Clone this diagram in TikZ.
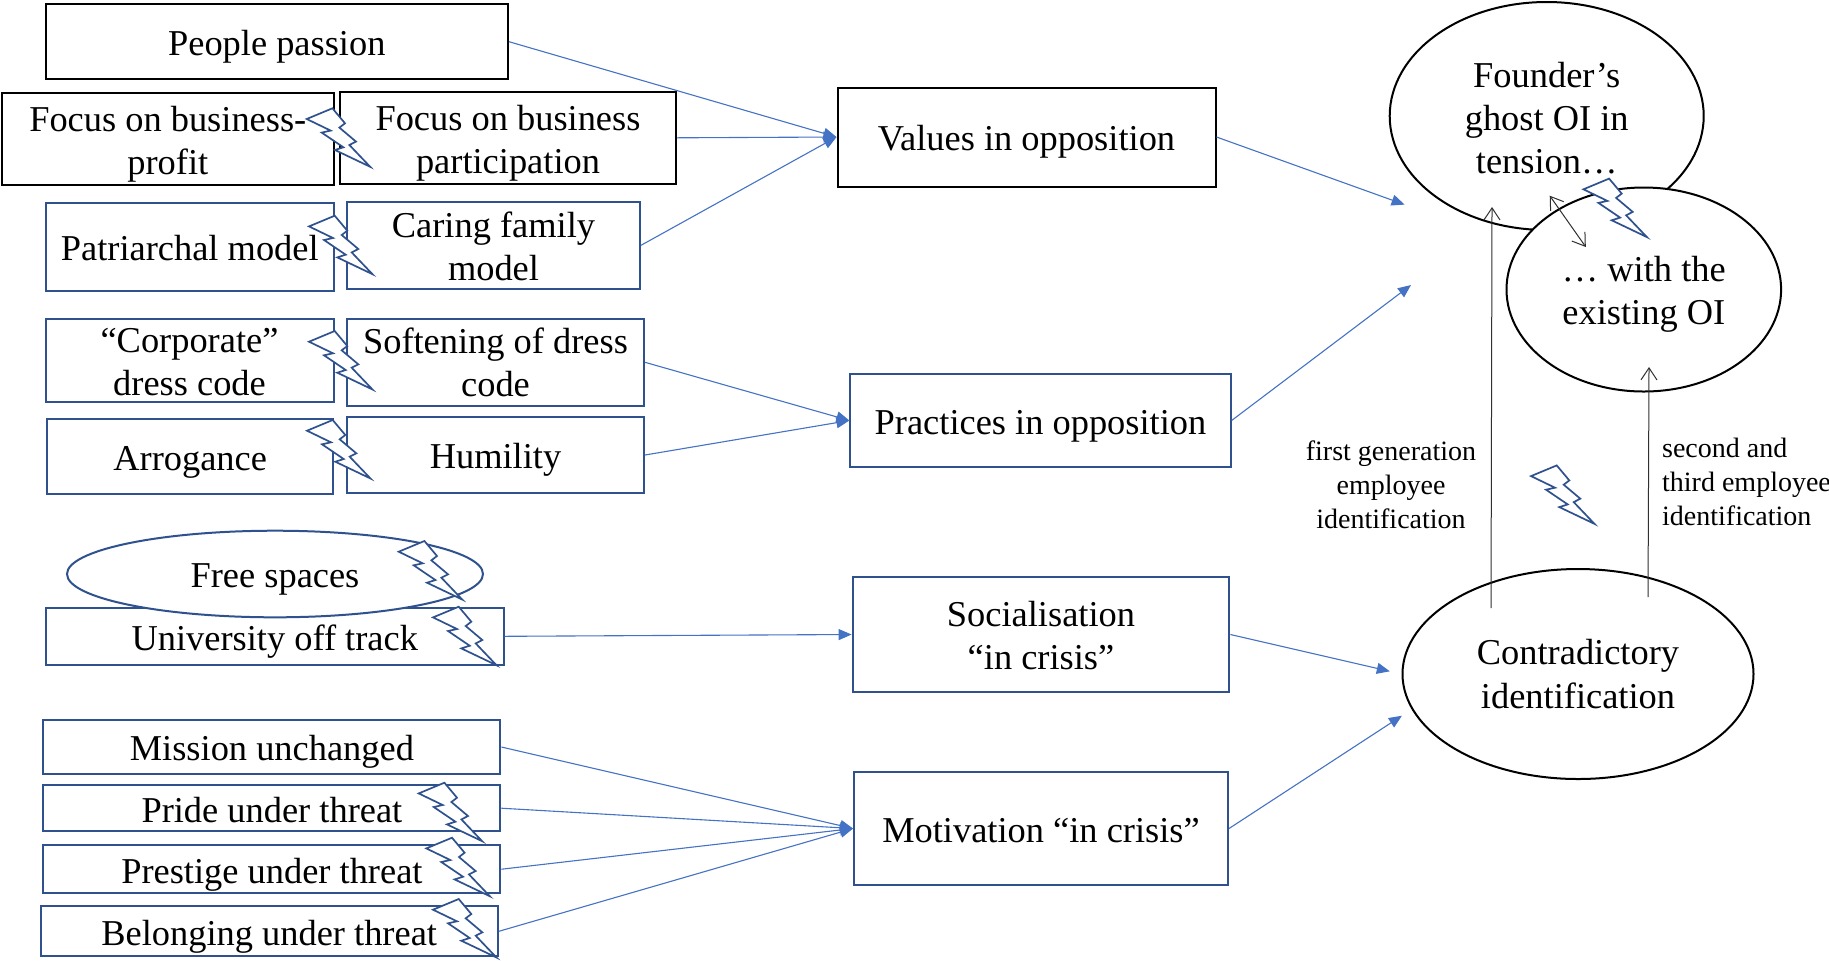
\documentclass[tikz,border=0pt]{standalone}
\usepackage{fontspec}
\setmainfont{Liberation Serif}
\usetikzlibrary{shapes.geometric,arrows.meta}
\definecolor{boxblue}{HTML}{2F528F}
\definecolor{linkblue}{HTML}{4472C4}
\definecolor{thinarrow}{HTML}{303030}
\newcommand{\toppad}[1]{\rule{0pt}{#1pt}}
\tikzset{
  labeltext/.style={font=\fontsize{18.2}{21.6}\selectfont,align=center,inner sep=0pt,text=black},
  oneline/.style={execute at begin node={\rule[-4pt]{0pt}{21.8pt}}},
  blackbox/.style={labeltext,rectangle,draw=black,line width=1pt},
  bluebox/.style={labeltext,rectangle,draw=boxblue,line width=1pt},
  blackoval/.style={labeltext,ellipse,draw=black,line width=1pt,fill=white},
  blueoval/.style={labeltext,ellipse,draw=boxblue,line width=1pt,fill=white},
  smalltext/.style={font=\fontsize{14}{17}\selectfont,inner sep=0pt,text=black},
  link/.style={draw=linkblue,line width=.55pt,-{Triangle[length=6.5pt,width=5.5pt]}},
  idarrow/.style={draw=thinarrow,line width=.5pt,-{Straight Barb[length=6pt,width=8pt,line width=.5pt]}},
  boltshape/.pic={
    \draw[draw=boxblue,line width=.85pt,fill=white,line join=miter]
      (0,10.7) -- (25.7,0) -- (38.3,15) -- (32.7,19.3) -- (49.3,33.3) -- (42.7,36.7)
      -- (63.5,58.5) -- (28.3,41.7) -- (36.7,39) -- (15,24.3) -- (24,22.3) -- cycle;
  }
}
\begin{document}
\begin{tikzpicture}[x=0.5pt,y=-0.5pt]
\useasboundingbox (0,0) rectangle (1829,960);
% left column
\node[blackbox,oneline,minimum width=231.2pt,minimum height=37.6pt] (people) at (276.8,41.7) {People passion};
\node[blackbox,minimum width=165.8pt,minimum height=45.8pt] (profit) at (167.8,138.8) {\toppad{17.9}Focus on business-\\profit};
\node[blackbox,minimum width=168pt,minimum height=45.8pt] (particip) at (508,137.8) {\toppad{17.9}Focus on business\\participation};
\node[bluebox,oneline,minimum width=143.8pt,minimum height=44.2pt] (patri) at (189.8,246.8) {Patriarchal model};
\node[bluebox,minimum width=146.5pt,minimum height=43.6pt] (caring) at (493.5,245.3) {\toppad{13.8}Caring family\\model};
\node[bluebox,minimum width=144pt,minimum height=41.6pt] (corp) at (189.5,360.3) {\toppad{13.7}“Corporate”\\dress code};
\node[bluebox,minimum width=148.5pt,minimum height=43.6pt] (soft) at (495.5,362.3) {\toppad{13.2}Softening of dress\\code};
\node[bluebox,oneline,minimum width=143.2pt,minimum height=37.4pt] (arrog) at (190.2,456.6) {Arrogance};
\node[bluebox,oneline,minimum width=148.5pt,minimum height=38pt] (humil) at (495.5,455) {Humility};
\node[bluebox,oneline,minimum width=228.8pt,minimum height=28.6pt] (univ) at (274.8,636.3) {University off track};
\node[blueoval,oneline,minimum width=208pt,minimum height=43.3pt] (free) at (275,574) {Free spaces};
\node[bluebox,oneline,minimum width=228.5pt,minimum height=27pt] (mission) at (271.9,747) {Mission unchanged};
\node[bluebox,oneline,minimum width=228.5pt,minimum height=22.8pt] (pride) at (271.9,808.2) {Pride under threat};
\node[bluebox,oneline,minimum width=228.5pt,minimum height=23.8pt] (prestige) at (271.9,869.2) {Prestige under threat};
\node[bluebox,oneline,minimum width=228.6pt,minimum height=25pt] (belong) at (269.2,931.3) {Belonging under threat};
% middle column
\node[blackbox,oneline,minimum width=189pt,minimum height=49.5pt] (values) at (1026.5,137) {Values in opposition};
\node[bluebox,oneline,minimum width=190.1pt,minimum height=46.1pt] (practices) at (1040.5,420.5) {Practices in opposition};
\node[bluebox,minimum width=188.4pt,minimum height=57.2pt] (social) at (1041,634.5) {\toppad{13.7}Socialisation\\“in crisis”};
\node[bluebox,oneline,minimum width=187pt,minimum height=56.5pt] (motiv) at (1041,828.5) {Motivation “in crisis”};
% right column
\node[blackoval,minimum width=157pt,minimum height=114pt] (founder) at (1546.7,116) {\toppad{15}Founder’s\\ghost OI in\\tension…};
\node[blackoval,minimum width=137.3pt,minimum height=102pt] (existing) at (1643.8,289.5) {\toppad{17.2}… with the\\existing OI};
\node[blackoval,minimum width=175.5pt,minimum height=105pt] (contra) at (1578,674) {\toppad{12.7}Contradictory\\identification};
\node[smalltext,align=center] (firstgen) at (1391,485) {first generation\\employee\\identification};
\node[smalltext,align=left] (secondgen) at (1746.5,482) {second and\\third employee\\identification};
% free ends
\coordinate (valuesend) at (1404.6,204.6);
\coordinate (practicesend) at (1411,285);
\coordinate (firststart) at (1491,608);
\coordinate (firsttip) at (1492,207);
\coordinate (secondstart) at (1648,597);
\coordinate (secondtip) at (1649,367);
\coordinate (tensiona) at (1549.7,195.7);
\coordinate (tensionb) at (1585.8,247);
% connectors
\draw[link] (people.east) -- (values.west);
\draw[link] (particip.east) -- (values.west);
\draw[link] (caring.east) -- (values.west);
\draw[link] (soft.east) -- (practices.west);
\draw[link] (humil.east) -- (practices.west);
\draw[link] (univ.east) -- (social.west);
\draw[link] (mission.east) -- (motiv.west);
\draw[link] (pride.east) -- (motiv.west);
\draw[link] (prestige.east) -- (motiv.west);
\draw[link] (belong.east) -- (motiv.west);
\draw[link] (values.east) -- (valuesend);
\draw[link] (practices.east) -- (practicesend);
\draw[link,shorten >=6pt] (social.east) -- (contra.west);
\draw[link,shorten >=5.8pt] (motiv.east) -- (contra.192);
\draw[idarrow] (firststart) -- (firsttip);
\draw[idarrow] (secondstart) -- (secondtip);
\draw[idarrow,{Straight Barb[length=6pt,width=8pt,line width=.5pt]}-{Straight Barb[length=6pt,width=8pt,line width=.5pt]}] (tensiona) -- (tensionb);
% bolts
\pic at (306.7,108.3) {boltshape};
\pic at (309,215.7) {boltshape};
\pic at (309,331) {boltshape};
\pic at (307,420) {boltshape};
\pic at (398.7,541) {boltshape};
\pic at (433,606.7) {boltshape};
\pic at (418.7,782.7) {boltshape};
\pic at (426.3,837.7) {boltshape};
\pic at (433,899) {boltshape};
\pic at (1583.4,178.6) {boltshape};
\pic at (1531,465.4) {boltshape};
\end{tikzpicture}
\end{document}
